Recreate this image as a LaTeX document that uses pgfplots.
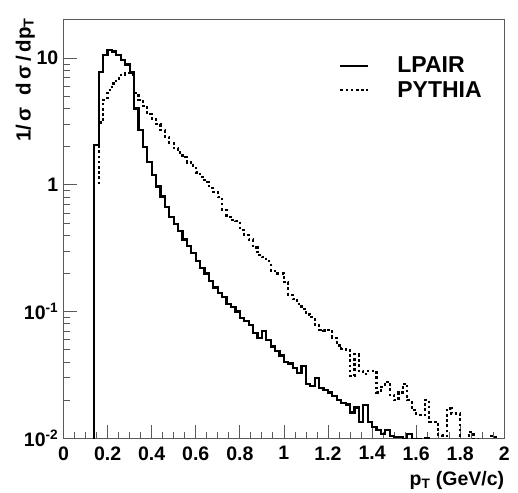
\documentclass[border=0pt]{standalone}
\usepackage{fontspec}
\setmainfont{Liberation Sans}
\usepackage{pgfplots}
\pgfplotsset{compat=1.18}
\begin{document}
\begin{tikzpicture}
\begin{axis}[
  name=ax, at={(0,0)}, anchor=south west,
  scale only axis, width=440.8pt, height=418.3pt,
  ymode=log, xmin=0, xmax=2, ymin=0.01, ymax=20,
  axis line style={draw=black!65, line width=1pt},
  every tick/.style={draw=black!65, line width=0.8pt},
  tick align=inside, xtick pos=bottom, ytick pos=left,
  major tick length=13pt, minor tick length=6.5pt,
  xtick={0,0.2,0.4,0.6,0.8,1,1.2,1.4,1.6,1.8,2},
  xticklabels={0,0.2,0.4,0.6,0.8,1,1.2,1.4,1.6,1.8,2},
  minor xtick={0.05,0.1,0.15,0.25,0.3,0.35,0.45,0.5,0.55,0.65,0.7,0.75,0.85,0.9,0.95,1.05,1.1,1.15,1.25,1.3,1.35,1.45,1.5,1.55,1.65,1.7,1.75,1.85,1.9,1.95},
  ytick={0.01,0.1,1,10},
  yticklabels={10\textsuperscript{-2},10\textsuperscript{-1},1,10},
  minor ytick={0.02,0.03,0.04,0.05,0.06,0.07,0.08,0.09,0.2,0.3,0.4,0.5,0.6,0.7,0.8,0.9,2,3,4,5,6,7,8,9},
  tick label style={font=\bfseries\fontsize{19.5}{19.5}\selectfont},
  xticklabel style={inner sep=0pt, yshift=-8pt},
  yticklabel style={inner sep=0pt, xshift=-5pt},
  legend style={at={(axis description cs:0.625,0.912)}, anchor=north west,
    draw=none, fill=none, inner sep=0pt, row sep=7.3pt,
    font=\bfseries\fontsize{23}{23}\selectfont,
    nodes={inner sep=0pt},
    /tikz/every odd column/.append style={column sep=28pt}},
  legend cell align=left,
  legend image code/.code={\draw[#1] (0pt,0pt) -- (28pt,0pt);},
]
\addplot[black, line width=2.2pt, const plot mark left] coordinates {
(0,0.001) (0.14,2.07) (0.16,7.8) (0.18,10.6) (0.20,11.6) (0.22,11.3) (0.24,10.6)
(0.26,9.7) (0.28,8.9) (0.30,7.7) (0.32,4.0) (0.34,2.71) (0.36,2.0) (0.38,1.52)
(0.40,1.20) (0.42,0.97) (0.44,0.81) (0.46,0.67) (0.48,0.56) (0.50,0.49) (0.52,0.43)
(0.54,0.37) (0.56,0.33) (0.58,0.29) (0.60,0.25) (0.62,0.22) (0.64,0.20) (0.66,0.175)
(0.68,0.155) (0.70,0.14) (0.72,0.13) (0.74,0.115) (0.76,0.108) (0.78,0.10) (0.80,0.089)
(0.82,0.084) (0.84,0.078) (0.86,0.068) (0.88,0.062) (0.90,0.070) (0.92,0.060) (0.94,0.053)
(0.96,0.049) (0.98,0.045) (1.00,0.040) (1.02,0.039) (1.04,0.036) (1.06,0.033) (1.08,0.037)
(1.10,0.027) (1.12,0.026) (1.14,0.030) (1.16,0.025) (1.18,0.024) (1.20,0.023) (1.22,0.0215)
(1.24,0.020) (1.26,0.019) (1.28,0.0185) (1.30,0.016) (1.32,0.0175) (1.34,0.0135) (1.36,0.0183)
(1.38,0.0134) (1.40,0.0123) (1.42,0.0117) (1.44,0.0108) (1.46,0.0116) (1.48,0.0105) (1.50,0.0102)
(1.52,0.0103) (1.54,0.0098) (1.56,0.0108) (1.58,0.0099) (1.60,0.0098) (1.62,0.0097) (1.64,0.0101)
(1.66,0.0095) (1.68,0.009) (2.0,0.009)
};
\addlegendentry{LPAIR}
\addplot[black, line width=2.2pt, dash pattern=on 2.6pt off 2.6pt, const plot mark left] coordinates {
(0,0.001) (0.14,1.03) (0.16,3.1) (0.18,4.7) (0.20,5.6) (0.22,6.3) (0.24,6.9)
(0.26,7.4) (0.28,7.6) (0.30,7.4) (0.32,5.3) (0.34,4.7) (0.36,4.2) (0.38,3.6)
(0.40,3.3) (0.42,3.0) (0.44,2.7) (0.46,2.4) (0.48,2.15) (0.50,1.95) (0.52,1.8)
(0.54,1.65) (0.56,1.5) (0.58,1.42) (0.60,1.25) (0.62,1.15) (0.64,1.05) (0.66,0.95)
(0.68,0.88) (0.70,0.80) (0.72,0.63) (0.74,0.56) (0.76,0.53) (0.78,0.52) (0.80,0.44)
(0.82,0.40) (0.84,0.37) (0.86,0.32) (0.88,0.28) (0.90,0.27) (0.92,0.25) (0.94,0.21)
(0.96,0.20) (0.98,0.20) (1.00,0.17) (1.02,0.135) (1.04,0.125) (1.06,0.115) (1.08,0.105)
(1.10,0.095) (1.12,0.09) (1.14,0.078) (1.16,0.072) (1.18,0.071) (1.20,0.072) (1.22,0.062)
(1.24,0.054) (1.26,0.051) (1.28,0.050) (1.30,0.031) (1.32,0.046) (1.34,0.034) (1.36,0.032)
(1.38,0.034) (1.40,0.034) (1.42,0.023) (1.44,0.0255) (1.46,0.028) (1.48,0.022) (1.50,0.020)
(1.52,0.023) (1.54,0.027) (1.56,0.020) (1.58,0.0167) (1.60,0.0153) (1.62,0.0153) (1.64,0.020)
(1.66,0.0135) (1.68,0.0135) (1.70,0.0106) (1.72,0.0104) (1.74,0.0172) (1.76,0.0157) (1.78,0.0157)
(1.80,0.009) (1.82,0.0095) (1.84,0.0112) (1.86,0.0098) (1.88,0.009) (1.90,0.009) (1.92,0.0096)
(1.94,0.0105) (1.96,0.009) (2.0,0.009)
};
\addlegendentry{PYTHIA}
\end{axis}
\node[rotate=90, anchor=south east, inner sep=0pt, font=\bfseries\fontsize{20.5}{20.5}\selectfont]
  at ([xshift=-28.5pt, yshift=2pt]ax.north west) {1/\,σ\hspace{0.6em}d\,σ\,/\,dp\textsubscript{T}};
\node[anchor=north east, inner sep=0pt, font=\bfseries\fontsize{19.5}{19.5}\selectfont]
  at ([yshift=-33pt]ax.south east) {p\textsubscript{T} (GeV/c)};
\pgfresetboundingbox
\path (-63.5pt,-53.7pt) rectangle (454.5pt,438.3pt);
\end{tikzpicture}
\end{document}
